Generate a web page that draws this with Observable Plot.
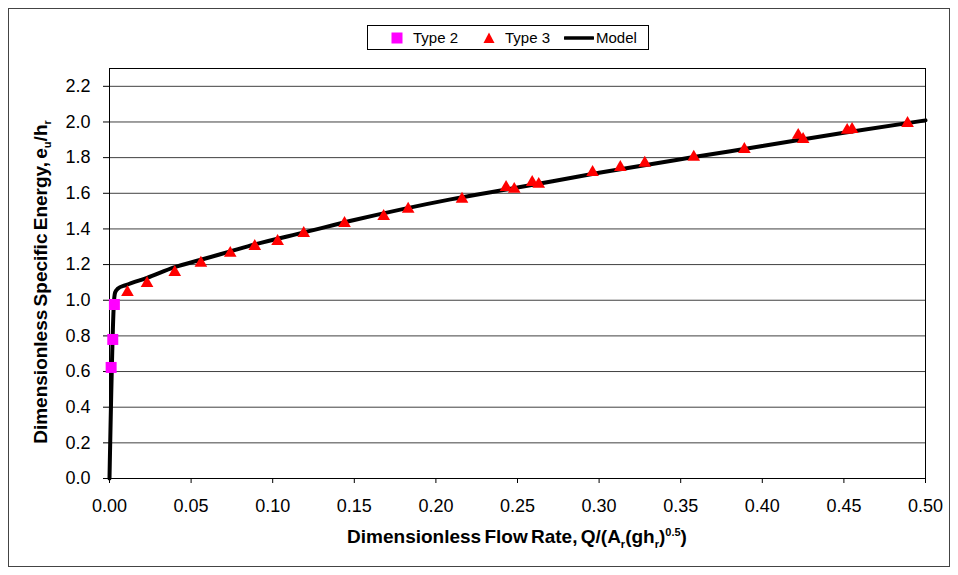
<!DOCTYPE html>
<html>
<head>
<meta charset="utf-8">
<script src="https://cdn.jsdelivr.net/npm/d3@7"></script>
<script src="https://cdn.jsdelivr.net/npm/@observablehq/plot@0.6"></script>
<style>
  body { margin: 0; background: #fff; }
  #wrap { position: relative; width: 958px; height: 575px; font-family: "Liberation Sans", Arial, sans-serif; color: #000; }
  #border { position: absolute; left: 8px; top: 8px; width: 942px; height: 559px; border: 1px solid #444; box-sizing: border-box; }
  #chart { position: absolute; left: 0; top: 0; }
  #legend { position: absolute; left: 367px; top: 25px; width: 282px; height: 25px; border: 1px solid #000; box-sizing: border-box; background: #fff; font-size: 15px; }
  #legend .item { position: absolute; line-height: 1; }
  #xlabel { position: absolute; left: 109px; width: 816px; top: 527px; text-align: center; font-weight: bold; font-size: 19px; word-spacing: -2px; white-space: nowrap; line-height: 1; }
  #ylabel { position: absolute; left: 40px; top: 282px; transform: translate(-50%, -50%) rotate(-90deg); font-weight: bold; font-size: 19px; word-spacing: -2px; white-space: nowrap; line-height: 1; }
  sub, sup { font-size: 11px; line-height: 0; }
</style>
</head>
<body>
<div id="wrap">
  <div id="border"></div>
  <div id="chart"></div>
  <div id="legend"></div>
  <div id="xlabel">Dimensionless Flow Rate, Q/(A<sub>r</sub>(gh<sub>r</sub>)<sup>0.5</sup>)</div>
  <div id="ylabel">Dimensionless Specific Energy, e<sub>u</sub>/h<sub>r</sub></div>
</div>
<script>
// ---- Data ----
const seriesNames = ["Type 2", "Type 3", "Model"];

const type2X = [0.003, 0.002, 0.001];
const type2Y = [0.976, 0.78, 0.623];

const type3X = [0.011, 0.023, 0.040, 0.056, 0.074, 0.089, 0.103, 0.119, 0.144, 0.168, 0.183,
                0.216, 0.243, 0.248, 0.259, 0.263, 0.296, 0.313, 0.328, 0.358, 0.389,
                0.422, 0.425, 0.452, 0.455, 0.489];
const type3Y = [1.055, 1.105, 1.167, 1.218, 1.274, 1.313, 1.341, 1.386, 1.442, 1.481, 1.521,
                1.577, 1.644, 1.633, 1.672, 1.661, 1.728, 1.756, 1.779, 1.813, 1.857,
                1.936, 1.913, 1.964, 1.969, 2.003];

const modelX = [0, 0.0028, 0.0035, 0.005, 0.01, 0.023, 0.04, 0.056, 0.074, 0.089, 0.12, 0.15,
                0.209, 0.25, 0.30, 0.358, 0.40, 0.45, 0.50];
const modelY = [0, 1.00, 1.045, 1.064, 1.085, 1.126, 1.186, 1.227, 1.274, 1.313, 1.382, 1.45,
                1.566, 1.632, 1.715, 1.803, 1.865, 1.94, 2.009];

const xTicks = [0, 0.05, 0.10, 0.15, 0.20, 0.25, 0.30, 0.35, 0.40, 0.45, 0.50];
const yTicks = [0, 0.2, 0.4, 0.6, 0.8, 1.0, 1.2, 1.4, 1.6, 1.8, 2.0, 2.2];
const yGrid = yTicks.filter(d => d > 0);

const colors = { "Type 2": "#ff00ff", "Type 3": "#ff0000", "Model": "#000000" };

// ---- Build tables ----
const type2 = type2X.map((x, i) => ({ x, y: type2Y[i] }));
const type3 = type3X.map((x, i) => ({ x, y: type3Y[i] }));
const model = modelX.map((x, i) => ({ x, y: modelY[i] }));

const chart = Plot.plot({
  width: 958,
  height: 575,
  marginLeft: 109,
  marginRight: 33,
  marginTop: 68,
  marginBottom: 97,
  style: { fontFamily: "'Liberation Sans', Arial, sans-serif", fontSize: "18px", background: "transparent", color: "#000" },
  x: { domain: [0, 0.5], ticks: xTicks, tickFormat: d3.format(".2f"), label: null },
  y: { domain: [0, 2.3], ticks: yTicks, tickFormat: d3.format(".1f"), label: null },
  marks: [
    Plot.gridY(yGrid, { stroke: "#000", strokeOpacity: 0.75, strokeWidth: 1 }),
    Plot.frame({ stroke: "#000", strokeWidth: 1 }),
    Plot.axisX({ ticks: xTicks, tickFormat: d3.format(".2f"), tickSize: 5, tickPadding: 16, fontSize: 18, label: null }),
    Plot.axisY({ ticks: yTicks, tickFormat: d3.format(".1f"), tickSize: 6, tickPadding: 13, fontSize: 18, label: null }),
    Plot.line(model, { x: "x", y: "y", stroke: colors["Model"], strokeWidth: 4, curve: "monotone-x", strokeLinejoin: "round" }),
    Plot.dot(type2, { x: "x", y: "y", symbol: "square", r: 6.2, fill: colors["Type 2"], stroke: "none" }),
    Plot.dot(type3, { x: "x", y: "y", symbol: "triangle", r: 4.7, dy: 1.8, fill: colors["Type 3"], stroke: "none" })
  ]
});
document.getElementById("chart").appendChild(chart);

// ---- Legend ----
const legend = document.getElementById("legend");
const glyphs = {
  "Type 2": `<svg width="12" height="12" style="display:block"><rect x="0.5" y="0.5" width="11" height="11" fill="${colors["Type 2"]}"/></svg>`,
  "Type 3": `<svg width="12" height="12" style="display:block"><path d="M6,0.5 L11.5,11 L0.5,11 Z" fill="${colors["Type 3"]}"/></svg>`,
  "Model": `<svg width="30" height="12" style="display:block"><line x1="1" y1="6" x2="29" y2="6" stroke="${colors["Model"]}" stroke-width="3.5" stroke-linecap="round"/></svg>`
};
const positions = [
  { glyph: 23, text: 45 },
  { glyph: 115, text: 137 },
  { glyph: 196, text: 228 }
];
seriesNames.forEach((name, i) => {
  const g = document.createElement("div");
  g.className = "item";
  g.style.left = positions[i].glyph + "px";
  g.style.top = "6px";
  g.innerHTML = glyphs[name];
  legend.appendChild(g);
  const t = document.createElement("div");
  t.className = "item";
  t.style.left = positions[i].text + "px";
  t.style.top = "4px";
  t.textContent = name;
  legend.appendChild(t);
});
</script>
</body>
</html>
